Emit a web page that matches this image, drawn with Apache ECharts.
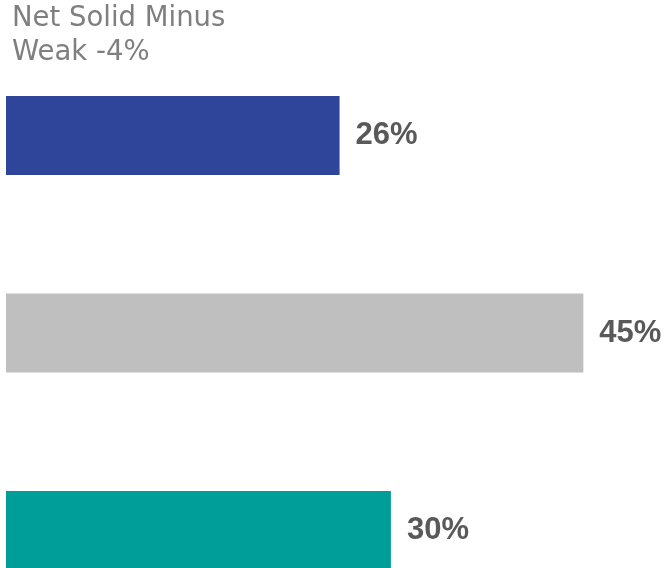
<!DOCTYPE html>
<html>
<head>
<meta charset="utf-8">
<script src="https://cdn.jsdelivr.net/npm/echarts@6/dist/echarts.min.js"></script>
<style>html,body{margin:0;padding:0;background:#fff}#c{width:663px;height:568px}</style>
</head>
<body>
<div id="c"></div>
<script>
const categories = ['A', 'B', 'C'];
const values = [26, 45, 30];
const colors = ['#2E4599', '#BFBFBF', '#009E99'];
const titleText = 'Net Solid Minus\nWeak -4%';

const chart = echarts.init(document.getElementById('c'));
chart.setOption({
  animation: false,
  title: {
    text: titleText,
    left: 12,
    top: 2,
    padding: 0,
    textStyle: { fontFamily: 'DejaVu Sans', fontSize: 27.5, fontWeight: 'normal', color: '#7F7F7F', lineHeight: 34 }
  },
  grid: { left: 6, top: 135.5, width: 641.5, height: 395 },
  xAxis: { type: 'value', min: 0, max: 50, show: false },
  yAxis: { type: 'category', data: categories, inverse: true, show: false, boundaryGap: false },
  series: [{
    type: 'bar',
    barWidth: 79,
    clip: false,
    data: values.map((v, i) => ({ value: v, itemStyle: { color: colors[i] } })),
    label: {
      show: true,
      position: 'right',
      distance: 16,
      formatter: '{c}%',
      fontFamily: 'Liberation Sans',
      fontWeight: 'bold',
      fontSize: 31,
      color: '#595959'
    }
  }]
});
</script>
</body>
</html>
